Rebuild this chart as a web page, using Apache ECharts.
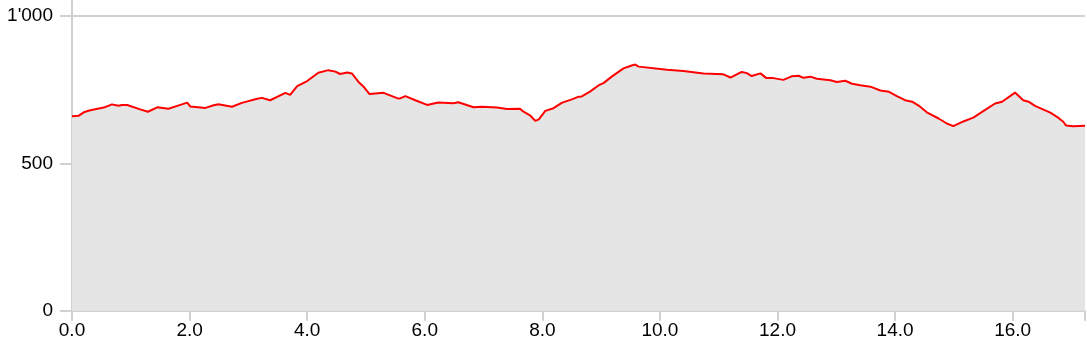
<!DOCTYPE html>
<html>
<head>
<meta charset="utf-8">
<script src="https://cdn.jsdelivr.net/npm/echarts@6/dist/echarts.min.js"></script>
<style>
html,body{margin:0;padding:0;background:#fff;}
#c{width:1087px;height:348px;}
</style>
</head>
<body>
<div id="c"></div>
<script>
const distKm = [0.00,0.11,0.20,0.31,0.54,0.68,0.79,0.85,0.88,0.94,1.16,1.29,1.45,1.64,1.79,1.96,2.01,2.27,2.41,2.49,2.72,2.89,3.15,3.23,3.37,3.63,3.71,3.83,4.00,4.19,4.36,4.48,4.56,4.68,4.76,4.87,4.96,5.06,5.30,5.53,5.58,5.67,5.84,6.04,6.23,6.49,6.57,6.83,6.97,7.23,7.40,7.62,7.68,7.79,7.88,7.94,8.05,8.19,8.33,8.50,8.62,8.67,8.81,8.96,9.04,9.18,9.38,9.52,9.58,9.64,10.12,10.40,10.74,11.08,11.20,11.39,11.48,11.56,11.71,11.81,11.93,12.10,12.24,12.36,12.44,12.56,12.67,12.90,13.01,13.15,13.27,13.41,13.58,13.75,13.89,14.03,14.17,14.29,14.40,14.54,14.74,14.88,14.99,15.16,15.33,15.50,15.70,15.82,16.04,16.18,16.27,16.38,16.64,16.78,16.86,16.91,17.03,17.23];
const elevM = [660,661,673,680,689,700,695,698,694,698,683,675,690,685,695,706,693,688,697,700,692,705,719,722,714,739,732,762,779,807,816,811,803,808,805,777,760,735,739,721,720,728,714,698,706,704,707,690,692,689,684,685,675,663,644,649,678,687,705,717,726,727,743,765,772,794,822,832,835,828,817,813,805,802,791,810,806,796,805,789,789,783,795,797,790,794,787,782,776,780,770,765,760,747,743,728,714,709,696,673,652,635,626,642,655,677,703,709,740,714,709,695,672,654,641,628,626,627];
const xTicks = [0,2,4,6,8,10,12,14,16];
const yTicks = [0,500,1000];
const refLine = 1000;
const xMax = 17.23;
const yMax = 1054;

const points = distKm.map((d, i) => [d, elevM[i]]);
const axisGrey = '#d0d0d0';
const font = '"Liberation Sans", Arial, sans-serif';

const chart = echarts.init(document.getElementById('c'), null, {renderer: 'canvas'});
chart.setOption({
  animation: false,
  grid: {left: 72, right: 2, top: 0, bottom: 37.3, containLabel: false},
  xAxis: {
    type: 'value', min: 0, max: xMax,
    axisLine: {show: true, lineStyle: {color: axisGrey, width: 2}},
    axisTick: {show: true, length: 10, lineStyle: {color: axisGrey, width: 2}, customValues: xTicks.concat([xMax])},
    axisLabel: {customValues: xTicks, color: '#000', fontSize: 19, fontFamily: font, margin: 11,
      formatter: v => v.toFixed(1)},
    splitLine: {show: false}
  },
  yAxis: {
    type: 'value', min: 0, max: yMax,
    axisLine: {show: true, lineStyle: {color: axisGrey, width: 2}},
    axisTick: {show: true, length: 12, lineStyle: {color: axisGrey, width: 2}, customValues: yTicks},
    axisLabel: {customValues: yTicks, color: '#000', fontSize: 19, fontFamily: font, margin: 19,
      formatter: v => String(v).replace(/\B(?=(\d{3})+(?!\d))/g, "'")},
    splitLine: {show: false}
  },
  series: [{
    type: 'line',
    data: points,
    symbol: 'none',
    smooth: false,
    lineStyle: {color: '#ff0000', width: 2},
    areaStyle: {color: '#e5e5e5', opacity: 1},
    markLine: {
      silent: true, symbol: 'none', animation: false,
      label: {show: false},
      lineStyle: {color: axisGrey, width: 2, type: 'solid'},
      data: [{yAxis: refLine}]
    },
    z: 2
  }]
});
</script>
</body>
</html>
